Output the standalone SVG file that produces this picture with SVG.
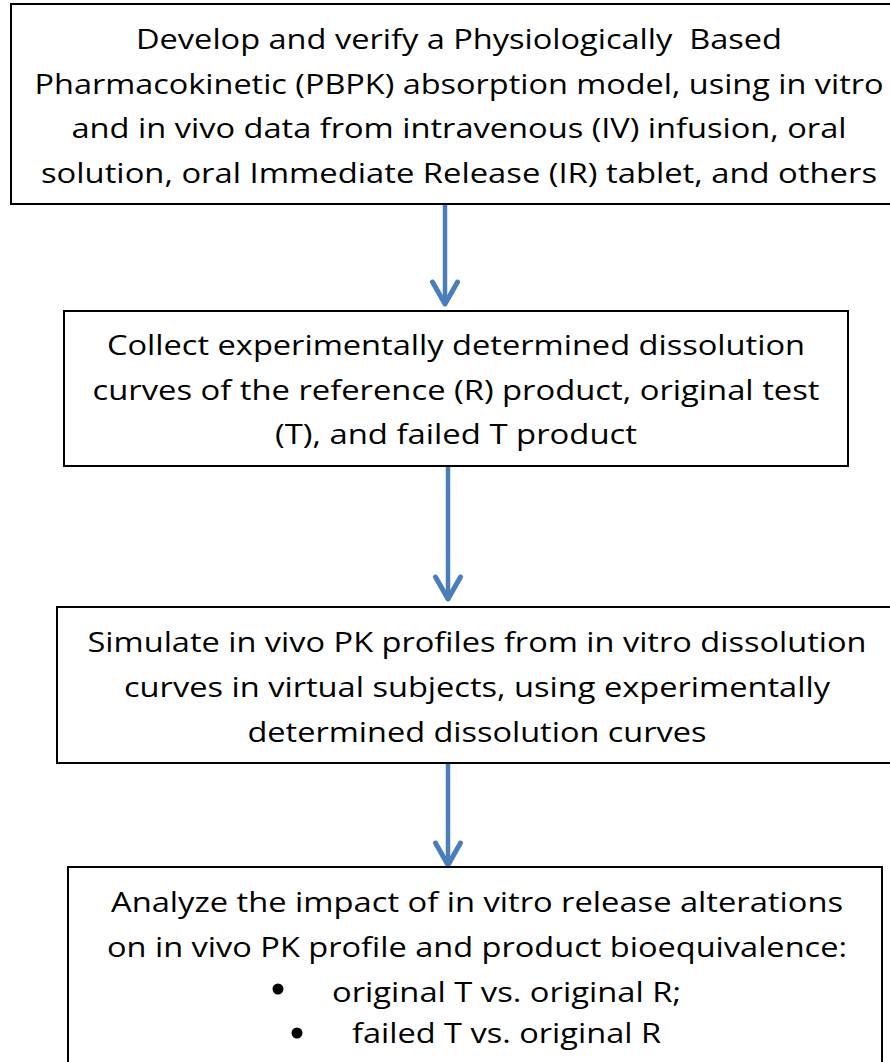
<svg xmlns="http://www.w3.org/2000/svg" width="890" height="1062" viewBox="0 0 890 1062">
<style>
.box{fill:#ffffff;stroke:#000000;stroke-width:2}
.t{font-family:"Open Sans","Liberation Sans",sans-serif;font-size:28px;fill:#000000}
.c{text-anchor:middle}
.conn{stroke:#4a7ebb;stroke-width:4.5;fill:none}
.dot{fill:#000000}
</style>
<defs>
<marker id="chev" markerUnits="userSpaceOnUse" viewBox="-30 -20 40 40" markerWidth="40" markerHeight="40" refX="0" refY="0" orient="auto">
<path d="M-22,-12.5 L0,0 L-22,12.5" fill="none" stroke="#4a7ebb" stroke-width="5" stroke-linecap="round" stroke-linejoin="round"/>
</marker>
</defs>
<rect width="890" height="1062" fill="#ffffff"/>
<g id="connectors">
<line class="conn" x1="445" y1="205" x2="445" y2="304" marker-end="url(#chev)"/>
<line class="conn" x1="448" y1="466" x2="448" y2="599" marker-end="url(#chev)"/>
<line class="conn" x1="448" y1="763" x2="448" y2="865" marker-end="url(#chev)"/>
</g>
<g id="node1">
<rect class="box" x="11" y="4" width="896" height="200"/>
<text class="t c" x="459" y="49" textLength="646" lengthAdjust="spacingAndGlyphs" xml:space="preserve">Develop and verify a Physiologically  Based</text>
<text class="t c" x="459" y="93.5" textLength="849" lengthAdjust="spacingAndGlyphs">Pharmacokinetic (PBPK) absorption model, using in vitro</text>
<text class="t c" x="459" y="138" textLength="775" lengthAdjust="spacingAndGlyphs">and in vivo data from intravenous (IV) infusion, oral</text>
<text class="t c" x="459" y="182.5" textLength="836" lengthAdjust="spacingAndGlyphs">solution, oral Immediate Release (IR) tablet, and others</text>
</g>
<g id="node2">
<rect class="box" x="64" y="311" width="784" height="155"/>
<text class="t c" x="456" y="355" textLength="698" lengthAdjust="spacingAndGlyphs">Collect experimentally determined dissolution</text>
<text class="t c" x="456" y="399.5" textLength="727" lengthAdjust="spacingAndGlyphs">curves of the reference (R) product, original test</text>
<text class="t c" x="456" y="444" textLength="362" lengthAdjust="spacingAndGlyphs">(T), and failed T product</text>
</g>
<g id="node3">
<rect class="box" x="57" y="607" width="840" height="156"/>
<text class="t c" x="477" y="652" textLength="779" lengthAdjust="spacingAndGlyphs">Simulate in vivo PK profiles from in vitro dissolution</text>
<text class="t c" x="477" y="697" textLength="706" lengthAdjust="spacingAndGlyphs">curves in virtual subjects, using experimentally</text>
<text class="t c" x="477" y="742" textLength="459" lengthAdjust="spacingAndGlyphs">determined dissolution curves</text>
</g>
<g id="node4">
<rect class="box" x="68" y="867" width="814" height="220"/>
<text class="t c" x="477" y="912" textLength="732" lengthAdjust="spacingAndGlyphs">Analyze the impact of in vitro release alterations</text>
<text class="t c" x="477" y="957" textLength="740" lengthAdjust="spacingAndGlyphs">on in vivo PK profile and product bioequivalence:</text>
<circle class="dot" cx="278" cy="989" r="5.5"/>
<text class="t" x="332" y="1002" textLength="349" lengthAdjust="spacingAndGlyphs">original T vs. original R;</text>
<circle class="dot" cx="297" cy="1033" r="5.5"/>
<text class="t" x="352" y="1043" textLength="309" lengthAdjust="spacingAndGlyphs">failed T vs. original R</text>
</g>
</svg>
